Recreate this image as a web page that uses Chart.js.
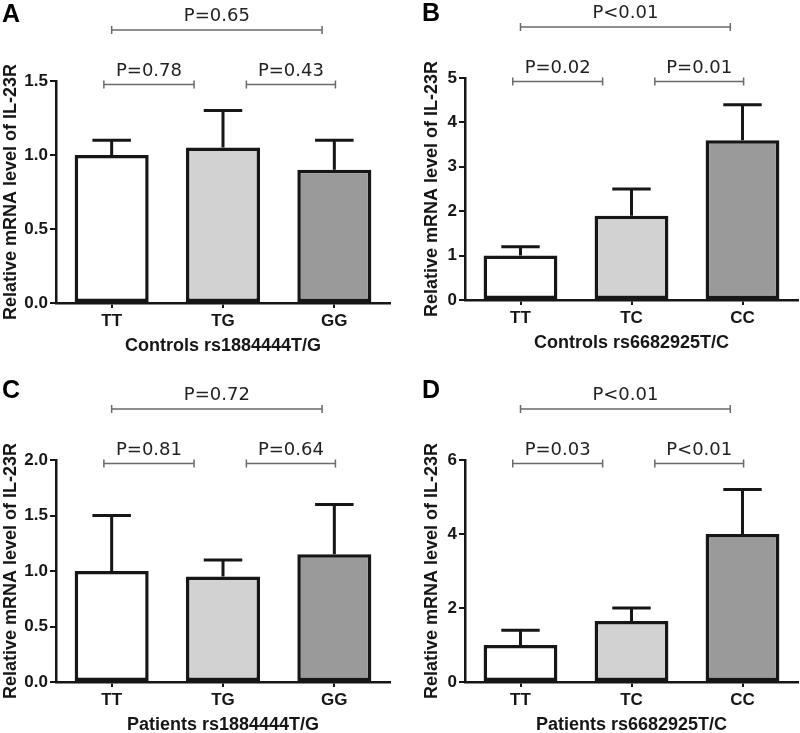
<!DOCTYPE html>
<html>
<head>
<meta charset="utf-8">
<script src="https://cdn.jsdelivr.net/npm/chart.js@4/dist/chart.umd.min.js"></script>
<style>
  html, body { margin: 0; padding: 0; background: #fff; overflow: hidden; }
  body { position: relative; width: 800px; height: 733px; }
  canvas { position: absolute; }
</style>
</head>
<body>
<canvas id="panelA" width="400" height="380" style="left:0;top:-13px"></canvas>
<canvas id="panelB" width="400" height="380" style="left:400px;top:-16px"></canvas>
<canvas id="panelC" width="400" height="380" style="left:0;top:366px"></canvas>
<canvas id="panelD" width="400" height="380" style="left:400px;top:366px"></canvas>
<script>
// genotypes
const genoTG = ['TT', 'TG', 'GG'];
const genoTC = ['TT', 'TC', 'CC'];

// relative mRNA level (mean) and upper error (SD)
const meanA = [1.0, 1.05, 0.9];
const errA = [0.1, 0.25, 0.2];
const meanB = [1.0, 1.9, 3.6];
const errB = [0.2, 0.6, 0.8];
const meanC = [1.0, 0.95, 1.15];
const errC = [0.5, 0.15, 0.45];
const meanD = [1.0, 1.65, 4.0];
const errD = [0.4, 0.35, 1.2];

// P values: [left pair, right pair, outer pair]
const pA = ['P=0.78', 'P=0.43', 'P=0.65'];
const pB = ['P=0.02', 'P=0.01', 'P<0.01'];
const pC = ['P=0.81', 'P=0.64', 'P=0.72'];
const pD = ['P=0.03', 'P<0.01', 'P<0.01'];

const barColors = ['#ffffff', '#d2d2d2', '#9a9a9a'];
const ink = '#161616';

const errorBars = {
    id: 'errorBars',
    afterDatasetsDraw(chart) {
        const ctx = chart.ctx;
        const ds = chart.data.datasets[0];
        const meta = chart.getDatasetMeta(0);
        const y = chart.scales.y;
        ctx.save();
        ctx.strokeStyle = ink;
        ctx.lineWidth = 3;
        meta.data.forEach((bar, i) => {
            const yTop = y.getPixelForValue(ds.data[i] + ds.errs[i]);
            const half = bar.width * 0.26;
            ctx.beginPath();
            ctx.moveTo(bar.x, bar.y);
            ctx.lineTo(bar.x, yTop);
            ctx.moveTo(bar.x - half, yTop);
            ctx.lineTo(bar.x + half, yTop);
            ctx.stroke();
        });
        ctx.restore();
    }
};

// bracket spans in category units: left pair, right pair, outer pair
const spans = [[-0.07, 0.74, false], [1.21, 2.01, false], [0, 1.89, true]];

const brackets = {
    id: 'brackets',
    afterDraw(chart, args, opts) {
        const ctx = chart.ctx;
        const x = chart.scales.x;
        const top = chart.chartArea.top;
        ctx.save();
        spans.forEach((s, i) => {
            const x0 = x.getPixelForValue(s[0]);
            const x1 = x.getPixelForValue(s[1]);
            const yb = s[2] ? top - 51 : top + 3.5;
            ctx.strokeStyle = '#6a6a6a';
            ctx.lineWidth = 1.5;
            ctx.beginPath();
            ctx.moveTo(x0, yb);
            ctx.lineTo(x1, yb);
            ctx.moveTo(x0, yb - 4);
            ctx.lineTo(x0, yb + 4);
            ctx.moveTo(x1, yb - 4);
            ctx.lineTo(x1, yb + 4);
            ctx.stroke();
            ctx.fillStyle = '#222';
            ctx.font = '18px "DejaVu Sans"';
            ctx.textAlign = 'center';
            ctx.textBaseline = 'alphabetic';
            ctx.fillText(opts.p[i], (x0 + x1) / 2, yb - 9);
        });
        // panel letter
        ctx.fillStyle = '#000';
        ctx.font = 'bold 25px "Liberation Sans", Arial';
        ctx.textAlign = 'left';
        ctx.fillText(opts.letter, opts.letterX, opts.letterY);
        ctx.restore();
    }
};

function makePanel(id, labels, means, errs, pVals, yMax, yStep, decimals, xTitle, letter, padLeft, padRight, axisWidth, letterX, letterY) {
    const tickFont = { family: '"Liberation Sans", Arial', size: 17, weight: 'bold' };
    const titleFont = { family: '"Liberation Sans", Arial', size: 18, weight: 'bold' };
    return new Chart(document.getElementById(id), {
        type: 'bar',
        data: {
            labels: labels,
            datasets: [{
                data: means,
                errs: errs,
                backgroundColor: barColors,
                borderColor: ink,
                borderWidth: 3.5,
                borderSkipped: false,
                barPercentage: 0.665,
                categoryPercentage: 1
            }]
        },
        options: {
            responsive: false,
            animation: false,
            layout: { padding: { top: 94, left: padLeft, right: padRight, bottom: 10 } },
            plugins: {
                legend: { display: false },
                tooltip: { enabled: false },
                brackets: { p: pVals, letter: letter, letterX: letterX, letterY: letterY }
            },
            scales: {
                x: {
                    grid: { drawOnChartArea: false, offset: false, tickLength: 5, color: ink, lineWidth: 2 },
                    border: { color: ink, width: 2.5 },
                    ticks: { color: ink, font: tickFont, padding: 3 },
                    title: { display: true, text: xTitle, color: ink, font: titleFont, padding: 0 },
                    afterFit: s => { s.height = 54; }
                },
                y: {
                    min: 0,
                    max: yMax,
                    grid: { drawOnChartArea: false, tickLength: 6, color: ink, lineWidth: 2 },
                    border: { color: ink, width: 2.5 },
                    ticks: {
                        stepSize: yStep,
                        color: ink,
                        font: tickFont,
                        padding: 2,
                        callback: v => v.toFixed(decimals)
                    },
                    title: { display: true, text: 'Relative mRNA level of IL-23R', color: ink, font: titleFont, padding: 0 },
                    afterFit: s => { s.width = axisWidth; }
                }
            }
        },
        plugins: [errorBars, brackets]
    });
}

makePanel('panelA', genoTG, meanA, errA, pA, 1.5, 0.5, 1, 'Controls rs1884444T/G', 'A', 0, 10, 56, 2, 35);
makePanel('panelB', genoTC, meanB, errB, pB, 5, 1, 0, 'Controls rs6682925T/C', 'B', 21, 2, 44, 22, 37);
makePanel('panelC', genoTG, meanC, errC, pC, 2.0, 0.5, 1, 'Patients rs1884444T/G', 'C', 0, 10, 56, 2, 32);
makePanel('panelD', genoTC, meanD, errD, pD, 6, 2, 0, 'Patients rs6682925T/C', 'D', 21, 2, 44, 22, 32);
</script>
</body>
</html>
